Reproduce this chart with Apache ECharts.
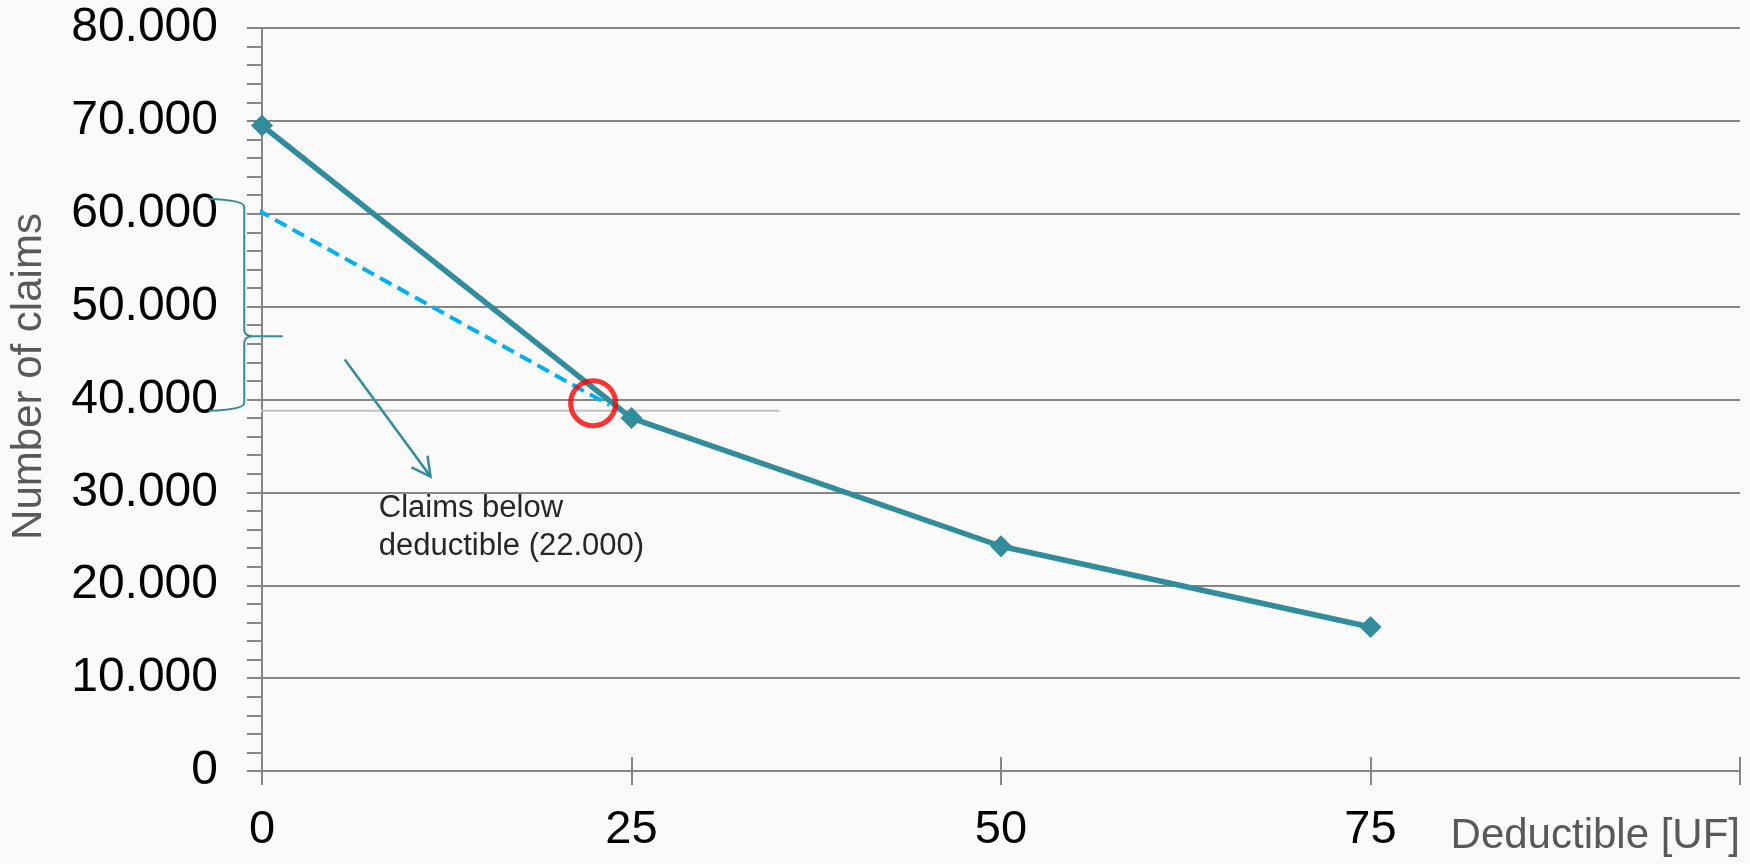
<!DOCTYPE html>
<html>
<head>
<meta charset="utf-8">
<script src="https://cdn.jsdelivr.net/npm/echarts@6/dist/echarts.min.js"></script>
<style>
  html, body { margin: 0; padding: 0; background: #fafafa; }
  #chart { width: 1750px; height: 864px; }
</style>
</head>
<body>
<div id="chart"></div>
<script>
// Number of claims by deductible level
const deductibles = [0, 25, 50, 75];
const claims = [69500, 38000, 24200, 15500];

// Tangent-style trend from the zero-deductible intercept down to the 25 UF level
const trendX = [-0.3, 23.5];
const trendY = [60400, 39400];

// Horizontal reference level and marked crossing point
const guideX = [-3.6, 35];
const guideY = [38800, 38800];
const crossX = [22.4];
const crossY = [39600];

// Curly brace spanning the claims that fall below the deductible
const braceX = [-3.6, -1.2, 1.4];      // arm ends, spine, tip
const braceY = [61600, 46800, 38800];  // top, middle, bottom

// Pointer arrow and its note
const arrowFrom = [5.6, 44300];
const arrowTo = [11.4, 31700];
const noteAt = [7.9, 26200];
const noteText = 'Claims below\ndeductible (22.000)';

const xTicks = { min: 0, max: 100, step: 25 };
const yTicks = { min: 0, max: 80000, step: 10000 };

const TEAL = '#318c9b';
const GRID = '#868686';
const FONT = '"Liberation Sans", Arial, sans-serif';

const thousands = v => String(v).replace(/\B(?=(\d{3})+(?!\d))/g, '.');
const zip = (xs, ys) => xs.map((x, i) => [x, ys[i]]);

const chart = echarts.init(document.getElementById('chart'), null, { renderer: 'canvas' });

chart.setOption({
  backgroundColor: '#fafafa',
  animation: false,
  grid: { left: 259, right: 10, top: 28, bottom: 93 },
  xAxis: [{
    type: 'value',
    min: xTicks.min, max: xTicks.max, interval: xTicks.step,
    name: 'Deductible [UF]',
    nameLocation: 'end',
    nameGap: 0,
    nameTextStyle: {
      color: '#595959', fontSize: 42, fontFamily: FONT,
      align: 'right', verticalAlign: 'top', padding: [44, 0, 0, 0]
    },
    axisLine: { show: true, onZero: false, lineStyle: { color: GRID, width: 2 } },
    axisTick: { show: true, inside: false, length: 14, lineStyle: { color: GRID, width: 2 } },
    axisLabel: {
      color: '#000', fontSize: 47, fontFamily: FONT, margin: 36,
      formatter: v => (v === xTicks.max ? '' : String(v))
    },
    splitLine: { show: false }
  }, {
    // upper half of the crossing x ticks
    type: 'value',
    min: xTicks.min, max: xTicks.max, interval: xTicks.step,
    position: 'bottom',
    axisLine: { show: false },
    axisTick: { show: true, inside: true, length: 14, lineStyle: { color: GRID, width: 2 } },
    axisLabel: { show: false },
    splitLine: { show: false }
  }],
  yAxis: {
    type: 'value',
    min: yTicks.min, max: yTicks.max, interval: yTicks.step,
    name: 'Number of claims',
    nameLocation: 'middle',
    nameGap: 212,
    nameTextStyle: { color: '#595959', fontSize: 42, fontFamily: FONT, padding: [0, 0, 0, 46] },
    axisLine: { show: true, onZero: false, lineStyle: { color: GRID, width: 2 } },
    axisTick: { show: true, inside: false, length: 15, lineStyle: { color: GRID, width: 2 } },
    minorTick: { show: true, splitNumber: 5, length: 15, lineStyle: { color: GRID, width: 2 } },
    axisLabel: { color: '#000', fontSize: 48, fontFamily: FONT, margin: 44, formatter: thousands },
    splitLine: { show: true, lineStyle: { color: GRID, width: 2 } }
  },
  series: [
    {
      name: 'guide',
      type: 'line',
      data: zip(guideX, guideY),
      clip: false,
      symbol: 'none',
      lineStyle: { color: '#c0c0c0', width: 2 },
      z: 1,
      silent: true
    },
    {
      name: 'Number of claims',
      type: 'line',
      data: zip(deductibles, claims),
      symbol: 'diamond',
      symbolSize: 22,
      itemStyle: { color: TEAL },
      lineStyle: { color: TEAL, width: 5.5 },
      z: 3
    },
    {
      name: 'trend',
      type: 'line',
      data: zip(trendX, trendY),
      clip: false,
      symbol: 'none',
      lineStyle: { color: '#00b0f0', width: 4, type: [13, 7] },
      z: 4,
      silent: true
    },
    {
      name: 'crossing',
      type: 'scatter',
      data: zip(crossX, crossY),
      symbol: 'circle',
      symbolSize: 45,
      itemStyle: { color: 'rgba(0,0,0,0)', borderColor: '#ff0000', borderWidth: 5 },
      z: 5,
      silent: true
    },
    {
      name: 'brace',
      type: 'custom',
      data: [[...braceX, ...braceY]],
      silent: true,
      z: 4,
      renderItem(params, api) {
        const [xl, xs, xt, yt, ym, yb] = [0, 1, 2, 3, 4, 5].map(i => api.value(i));
        const top = api.coord([xl, yt]);
        const bot = api.coord([xl, yb]);
        const S = api.coord([xs, ym])[0];
        const M = api.coord([xs, ym])[1];
        const T = api.coord([xt, ym])[0];
        const r = 8;
        const d = [
          `M ${top[0]} ${top[1]}`,
          `Q ${S} ${top[1] + 1} ${S} ${top[1] + r}`,
          `L ${S} ${M - 6}`,
          `Q ${S} ${M} ${S + 10} ${M}`,
          `L ${T} ${M}`,
          `M ${S + 10} ${M}`,
          `Q ${S} ${M} ${S} ${M + 6}`,
          `L ${S} ${bot[1] - r}`,
          `Q ${S} ${bot[1] - 1} ${bot[0]} ${bot[1]}`
        ].join(' ');
        return {
          type: 'path',
          shape: { pathData: d },
          style: { fill: null, stroke: TEAL, lineWidth: 2 }
        };
      }
    },
    {
      name: 'pointer',
      type: 'custom',
      data: [[...arrowFrom, ...arrowTo]],
      silent: true,
      z: 4,
      renderItem(params, api) {
        const a = api.coord([api.value(0), api.value(1)]);
        const b = api.coord([api.value(2), api.value(3)]);
        const ang = Math.atan2(a[1] - b[1], a[0] - b[0]);
        const len = 21, spread = 28 * Math.PI / 180;
        const arm = s => [b[0] + len * Math.cos(ang + s), b[1] + len * Math.sin(ang + s)];
        const style = { stroke: TEAL, lineWidth: 2.5, fill: null };
        return {
          type: 'group',
          children: [
            { type: 'line', shape: { x1: a[0], y1: a[1], x2: b[0], y2: b[1] }, style },
            { type: 'polyline', shape: { points: [arm(spread), b, arm(-spread)] }, style }
          ]
        };
      }
    },
    {
      name: 'note',
      type: 'custom',
      data: [noteAt],
      silent: true,
      z: 4,
      renderItem(params, api) {
        const p = api.coord([api.value(0), api.value(1)]);
        return {
          type: 'text',
          x: p[0], y: p[1],
          style: {
            text: noteText,
            fill: '#262626',
            fontSize: 31,
            fontFamily: FONT,
            lineHeight: 38,
            align: 'left',
            verticalAlign: 'middle'
          }
        };
      }
    }
  ]
});
</script>
</body>
</html>
